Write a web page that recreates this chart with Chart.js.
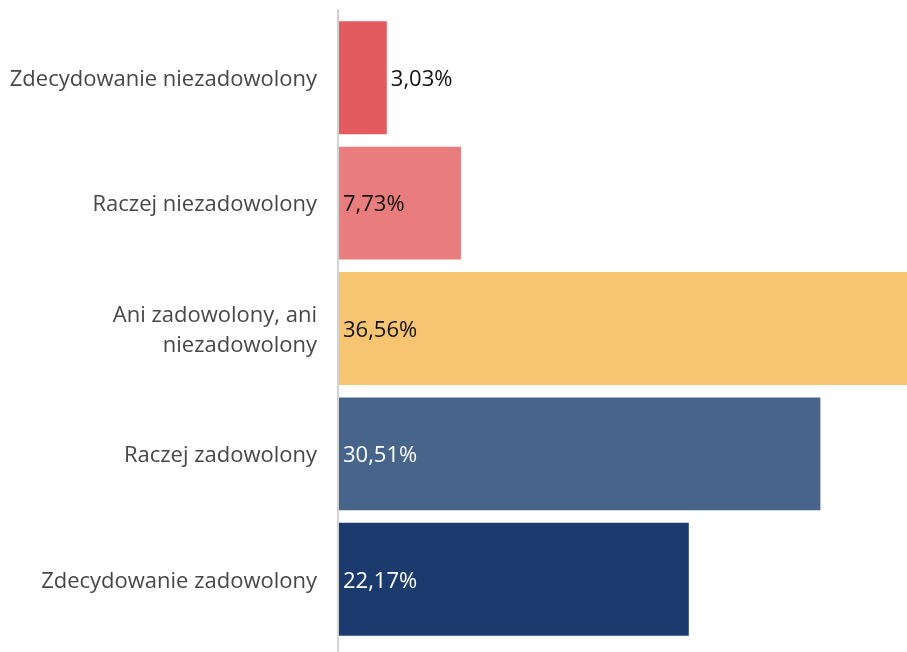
<!DOCTYPE html>
<html>
<head>
<meta charset="utf-8">
<script src="https://cdn.jsdelivr.net/npm/chart.js@4/dist/chart.umd.min.js"></script>
<style>
  html, body { margin: 0; padding: 0; background: #fff; }
  #wrap { width: 907px; height: 652px; }
</style>
</head>
<body>
<div id="wrap"><canvas id="chart-area"></canvas></div>
<script>
// dane
const categories = [
  "Zdecydowanie niezadowolony",
  "Raczej niezadowolony",
  ["Ani zadowolony, ani", "niezadowolony"],
  "Raczej zadowolony",
  "Zdecydowanie zadowolony"
];
const values = [3.03, 7.73, 36.56, 30.51, 22.17];
const barColors = ["#e35b5e", "#e97c7c", "#f7c472", "#47648b", "#1b3b6f"];
const labelColors = ["#111", "#111", "#111", "#fff", "#fff"];

const FONT = "'Open Sans', 'Noto Sans', sans-serif";

const fmt = v => v.toFixed(2).replace(".", ",") + "%";

// etykiety wartości na słupkach
const valueLabels = {
  id: "valueLabels",
  afterDatasetsDraw(chart) {
    const ctx = chart.ctx;
    const meta = chart.getDatasetMeta(0);
    ctx.save();
    ctx.font = "22px " + FONT;
    ctx.textBaseline = "middle";
    ctx.textAlign = "left";
    meta.data.forEach((bar, i) => {
      const txt = fmt(values[i]);
      const w = ctx.measureText(txt).width;
      const barW = bar.x - bar.base;
      let x = bar.base + 4;
      if (w + 8 > barW) x = bar.x + 4;
      ctx.fillStyle = labelColors[i];
      ctx.fillText(txt, x, bar.y + 2);
    });
    ctx.restore();
  }
};

// linia osi Y (wystaje trochę poza obszar wykresu)
const axisLine = {
  id: "axisLine",
  afterDatasetsDraw(chart) {
    const a = chart.chartArea;
    const ctx = chart.ctx;
    ctx.save();
    ctx.strokeStyle = "#d3d3d3";
    ctx.lineWidth = 2;
    ctx.beginPath();
    ctx.moveTo(a.left - 1, a.top - 6);
    ctx.lineTo(a.left - 1, chart.height);
    ctx.stroke();
    ctx.restore();
  }
};

const config = {
  type: "bar",
  data: {
    labels: categories,
    datasets: [{
      data: values,
      backgroundColor: barColors,
      borderWidth: 0,
      barPercentage: 0.9,
      categoryPercentage: 1.0
    }]
  },
  options: {
    indexAxis: "y",
    responsive: true,
    maintainAspectRatio: false,
    animation: false,
    layout: { padding: { top: 15, bottom: 10, left: 0, right: 0 } },
    plugins: {
      legend: { display: false },
      tooltip: { enabled: false }
    },
    scales: {
      x: {
        display: false,
        min: 0,
        max: 36
      },
      y: {
        grid: { display: false, drawTicks: false },
        border: { display: false },
        afterFit: s => {
          s.width = 339;
          s.paddingTop = 0;
          s.paddingBottom = 0;
        },
        ticks: {
          padding: 22,
          labelOffset: 2,
          color: "#474747",
          font: { family: FONT, size: 22, lineHeight: 1.36 }
        }
      }
    }
  },
  plugins: [valueLabels, axisLine]
};

var ctx = document.getElementById("chart-area").getContext("2d");
var myChart = new Chart(ctx, config);
</script>
</body>
</html>
